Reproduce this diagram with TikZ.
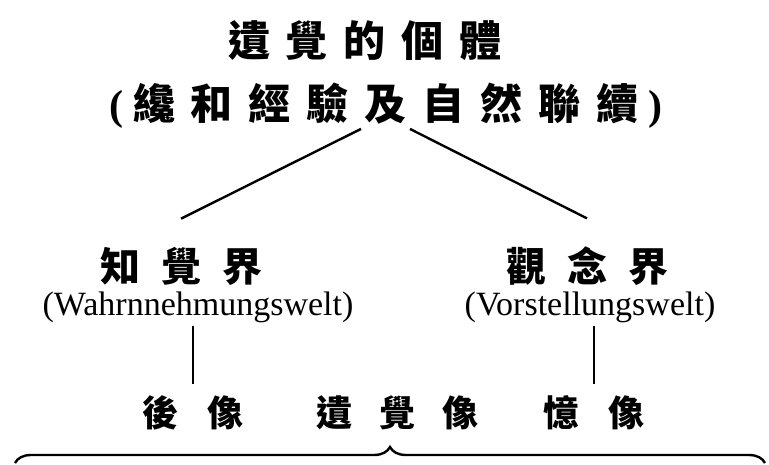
\documentclass[tikz,border=0pt]{standalone}
\usepackage{fontspec}
\setmainfont{Liberation Serif}
\newfontfamily\cjk{Noto Sans CJK TC}
\usetikzlibrary{decorations.pathreplacing}

\newcommand{\gp}[1]{\hspace{#1pt}}
\tikzset{zh/.style={inner sep=0pt, font=\cjk\bfseries\fontsize{#1}{#1}\selectfont}}
\tikzset{de/.style={inner sep=0pt, anchor=base, font=\fontsize{34}{34}\selectfont}}
\tikzset{ln/.style={line width=2.4pt}}

\begin{document}
\begin{tikzpicture}[x=1pt,y=-1pt]
    \useasboundingbox (0,0) rectangle (769,465);

    \node[zh=42] (whole) at (365,41) {遺\gp{16}覺\gp{16}的\gp{16}個\gp{16}體};
    \node[zh=42] (assoc) at (386,106) {{\rmfamily (}\gp{10}纔\gp{16}和\gp{16}經\gp{16}驗\gp{16}及\gp{16}自\gp{16}然\gp{16}聯\gp{16}續\gp{10}{\rmfamily )}};

    \node[zh=40] (perc) at (181,266) {知\gp{21}覺\gp{21}界};
    \node[de] (percde) at (198,316) {(Wahrnnehmungswelt)};
    \node[zh=40] (idea) at (587,266) {觀\gp{21}念\gp{21}界};
    \node[de] (ideade) at (590,316) {(Vorstellungswelt)};

    \node[zh=36] (after) at (193,413) {後\gp{30}像};
    \node[zh=36] (eidet) at (397,413) {遺\gp{27}覺\gp{27}像};
    \node[zh=36] (memo) at (594,413) {憶\gp{30}像};

    \coordinate (bl) at (15,463);
    \coordinate (br) at (765,463);

    \draw[ln] ([xshift=-25pt]assoc.south) -- ([yshift=28pt]perc.north);
    \draw[ln] ([xshift=24pt]assoc.south) -- ([yshift=28pt]idea.north);
    \draw[ln, shorten <=2pt, shorten >=12pt] (percde.south -| after.north) -- (after.north);
    \draw[ln, shorten <=2pt, shorten >=12pt] (ideade.south -| memo.north) -- (memo.north);
    \draw[ln, decorate, decoration={brace, amplitude=16pt}] (bl) -- (br);
\end{tikzpicture}
\end{document}
